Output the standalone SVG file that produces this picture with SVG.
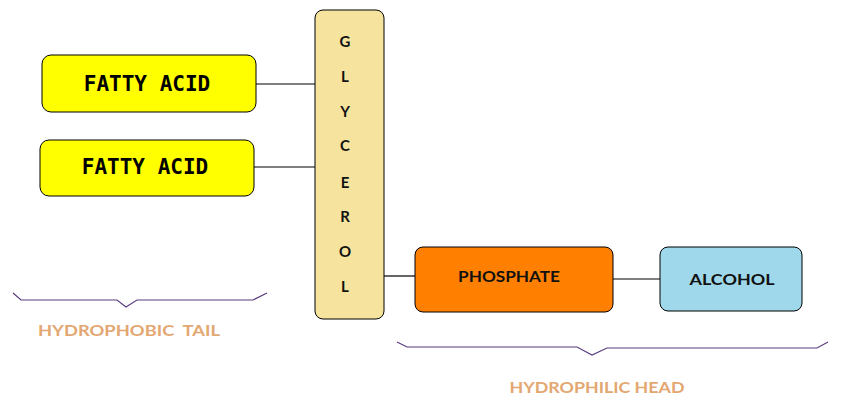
<svg xmlns="http://www.w3.org/2000/svg" width="849" height="411" viewBox="0 0 849 411">
<style>
.box{stroke:#000;stroke-width:1}
.fa{font-family:"DejaVu Sans Mono","Liberation Mono",monospace;font-weight:bold;font-size:21px;fill:#000;text-anchor:middle;dominant-baseline:central}
.gl{font-family:Lato,"DejaVu Sans",sans-serif;font-weight:bold;font-size:15px;fill:#111;text-anchor:middle;dominant-baseline:central}
.hd{font-family:Lato,"DejaVu Sans",sans-serif;font-weight:bold;font-size:15px;fill:#111;text-anchor:middle;dominant-baseline:central}
.lbl{font-family:Lato,"Open Sans",sans-serif;font-weight:bold;font-size:16px;fill:#e3a772;text-anchor:middle;dominant-baseline:central}
.brace{fill:none;stroke:#5a3d80;stroke-width:1.2}
.conn{stroke:#000;stroke-width:1.2;fill:none}
</style>
<rect width="849" height="411" fill="#fff"/>
<g id="connectors">
<line class="conn" x1="256" y1="84" x2="315" y2="84"/>
<line class="conn" x1="254" y1="167" x2="315" y2="167"/>
<line class="conn" x1="384" y1="276" x2="415" y2="276"/>
<line class="conn" x1="613" y1="279" x2="660" y2="279"/>
</g>
<g id="fatty-acid-1">
<rect class="box" x="42" y="55" width="214" height="57" rx="9" fill="#ffff00"/>
<text class="fa" x="147" y="84">FATTY ACID</text>
</g>
<g id="fatty-acid-2">
<rect class="box" x="40" y="140" width="214" height="56" rx="9" fill="#ffff00"/>
<text class="fa" x="145" y="167">FATTY ACID</text>
</g>
<g id="glycerol">
<rect class="box" x="315" y="10" width="69" height="309" rx="8" fill="#f5e39e"/>
<text class="gl" x="345" y="41">G</text>
<text class="gl" x="345" y="76">L</text>
<text class="gl" x="345" y="111">Y</text>
<text class="gl" x="345" y="145">C</text>
<text class="gl" x="345" y="182">E</text>
<text class="gl" x="345" y="216">R</text>
<text class="gl" x="345" y="251">O</text>
<text class="gl" x="345" y="286">L</text>
</g>
<g id="phosphate">
<rect class="box" x="415" y="247" width="198" height="65" rx="8" fill="#ff8000"/>
<text class="hd" x="509" y="276" textLength="102" lengthAdjust="spacingAndGlyphs">PHOSPHATE</text>
</g>
<g id="alcohol">
<rect class="box" x="660" y="247" width="142" height="64" rx="8" fill="#9fd8ea"/>
<text class="hd" x="732" y="279" textLength="85" lengthAdjust="spacingAndGlyphs">ALCOHOL</text>
</g>
<g id="tail-brace">
<polyline class="brace" points="13,293 21,300 117,300 126,307 137,300 253,300 267,293"/>
<text class="lbl" x="129" y="329" xml:space="preserve" textLength="182" lengthAdjust="spacingAndGlyphs">HYDROPHOBIC  TAIL</text>
</g>
<g id="head-brace">
<polyline class="brace" points="397,342 407,347 577,347 592,355 607,348 817,348 828,342"/>
<text class="lbl" x="597" y="386" textLength="175" lengthAdjust="spacingAndGlyphs">HYDROPHILIC HEAD</text>
</g>
</svg>
